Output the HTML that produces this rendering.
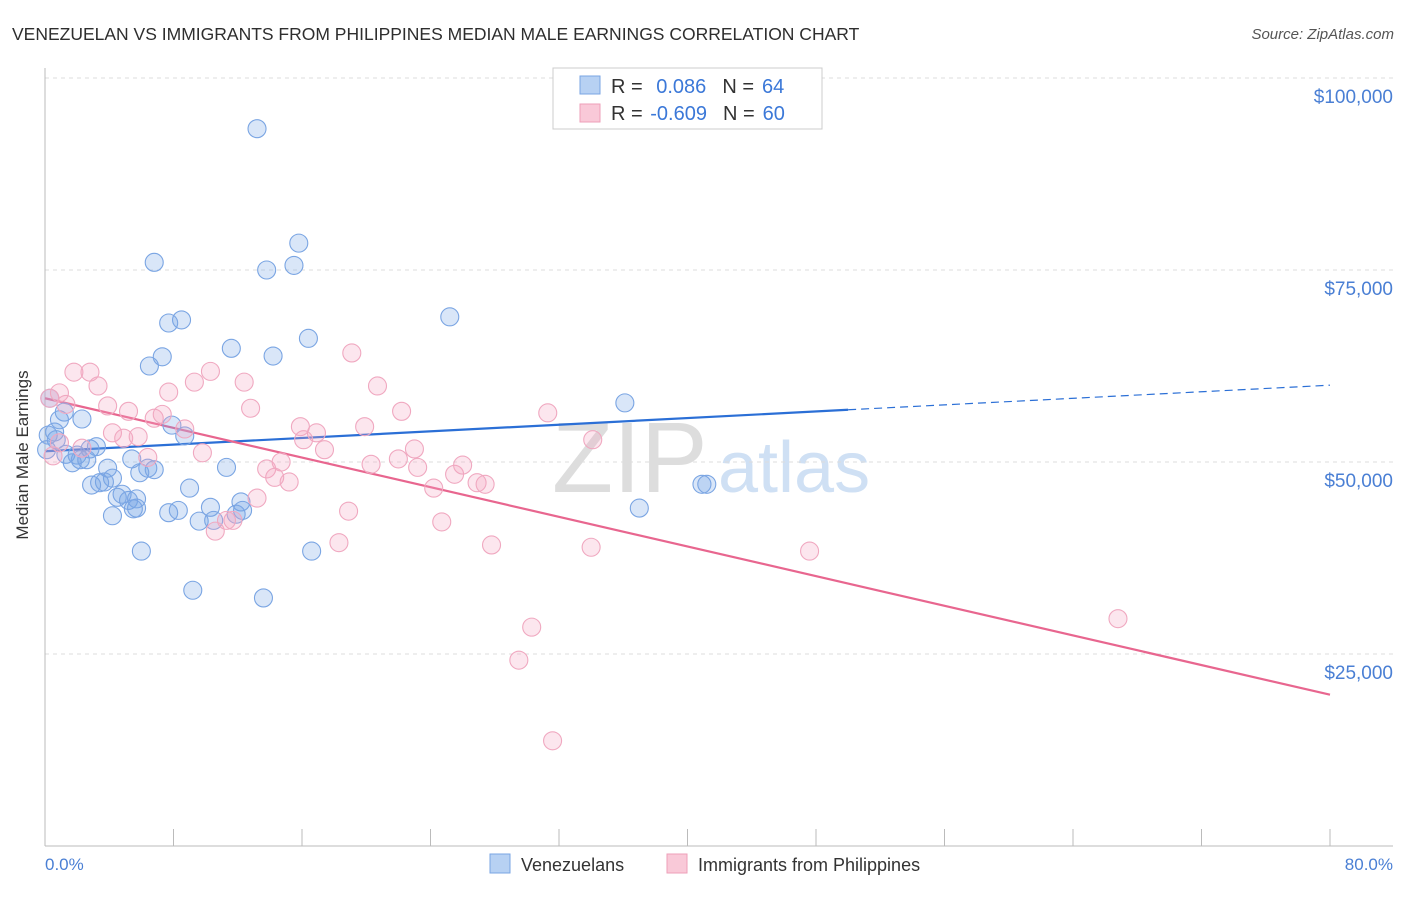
<!DOCTYPE html>
<html><head><meta charset="utf-8"><style>
body{margin:0;background:#fff;font-family:"Liberation Sans",sans-serif;}
svg text{font-family:"Liberation Sans",sans-serif;}
</style></head><body>
<svg id="chart" width="1406" height="892" xmlns="http://www.w3.org/2000/svg">
<text x="12" y="40" font-size="17.5" fill="#2e2e2e">VENEZUELAN VS IMMIGRANTS FROM PHILIPPINES MEDIAN MALE EARNINGS CORRELATION CHART</text>
<text x="1394" y="39" font-size="15" fill="#555" font-style="italic" text-anchor="end">Source: ZipAtlas.com</text>
<g>
<text x="552" y="492" font-size="100" font-family="Liberation Serif" fill="#ddd">ZIP</text>
<text x="718" y="492" font-size="72" fill="#cfe0f4">atlas</text>
</g>
<g id="grid"></g><g id="axes"></g><g id="trends"></g><g id="pts"></g>
<text x="28" y="455" font-size="17" fill="#333" text-anchor="middle" transform="rotate(-90 28 455)">Median Male Earnings</text>
<text x="45" y="870" font-size="17" fill="#4a7fd4">0.0%</text>
<text x="1393" y="870" font-size="17" fill="#4a7fd4" text-anchor="end">80.0%</text>
<g>
<rect x="553" y="68" width="269" height="61" fill="#fff" stroke="#ccc"/>
<rect x="580" y="76" width="20" height="18" fill="#b7d1f3" stroke="#7aa5e3"/>
<rect x="580" y="104" width="20" height="18" fill="#f9c9d8" stroke="#ee9fb8"/>
<text x="611" y="93" font-size="20" fill="#333">R =  <tspan fill="#3b78d8" dx="8">0.086</tspan><tspan dx="16" fill="#333">N =</tspan><tspan fill="#3b78d8" dx="8">64</tspan></text>
<text x="611" y="120" font-size="20" fill="#333">R = <tspan fill="#3b78d8" dx="2">-0.609</tspan><tspan dx="16" fill="#333">N =</tspan><tspan fill="#3b78d8" dx="8">60</tspan></text>
</g>
<g>
<rect x="490" y="854" width="20" height="19" fill="#b7d1f3" stroke="#7aa5e3"/>
<text x="521" y="871" font-size="18" fill="#333">Venezuelans</text>
<rect x="667" y="854" width="20" height="19" fill="#f9c9d8" stroke="#ee9fb8"/>
<text x="698" y="871" font-size="18" fill="#333">Immigrants from Philippines</text>
</g>
</svg>
<script>
const yTicks=[25000,50000,75000,100000];
const yTickLabels=["$25,000","$50,000","$75,000","$100,000"];
const xTicks=[0,8,16,24,32,40,48,56,64,72,80];
const blueX=[13.2,15.8,6.8,13.8,15.5,8.5,7.7,25.2,16.4,11.6,7.3,14.2,6.5,36.1,0.3,1.2,0.9,2.3,0.6,0.7,3.2,2.8,1.3,2.0,2.2,2.6,1.7,5.4,6.4,6.8,3.9,5.9,11.3,4.2,3.7,2.9,3.4,9.0,4.8,4.5,5.2,5.7,5.7,5.5,4.2,7.7,8.3,10.3,12.2,9.6,10.5,11.9,12.3,37.0,40.9,41.2,6.0,16.6,9.2,13.6,8.7,7.9,0.2,0.1];
const blueY=[93.4,78.5,76.0,75.0,75.6,68.5,68.1,68.9,66.1,64.8,63.7,63.8,62.5,57.7,58.3,56.5,55.5,55.6,53.9,52.9,52.0,51.7,51.0,50.9,50.3,50.3,49.9,50.4,49.2,49.0,49.2,48.6,49.3,47.9,47.4,47.0,47.3,46.6,45.8,45.4,45.0,45.2,44.0,43.9,43.0,43.4,43.7,44.1,44.8,42.3,42.4,43.2,43.7,44.0,47.1,47.1,38.4,38.4,33.3,32.3,53.4,54.8,53.5,51.6];
const pinkX=[0.3,0.9,1.3,1.8,2.8,3.3,3.9,5.2,6.8,7.3,7.7,8.7,9.3,10.3,12.4,12.8,19.1,20.7,22.2,15.9,16.9,16.1,17.4,19.9,4.2,4.9,5.8,6.4,9.8,2.3,0.9,0.5,13.8,14.7,15.2,14.3,20.3,22.0,23.0,23.2,24.2,25.5,26.0,26.9,27.4,34.1,31.3,13.2,11.7,10.6,11.3,18.9,24.7,18.3,27.8,34.0,47.6,30.3,29.5,31.6,66.8];
const pinkY=[58.3,59.0,57.5,61.7,61.7,59.9,57.3,56.6,55.7,56.2,59.1,54.3,60.4,61.8,60.4,57.0,64.2,59.9,56.6,54.6,53.8,52.9,51.6,54.6,53.8,53.1,53.3,50.6,51.2,51.8,52.5,50.8,49.1,50.0,47.4,48.0,49.7,50.4,51.7,49.3,46.6,48.4,49.6,47.3,47.1,52.9,56.4,45.3,42.4,41.0,42.4,43.6,42.2,39.5,39.2,38.9,38.4,28.5,24.2,13.7,29.6];
const blueTrend=[51.4,56.8,60.0];
const pinkTrend=[58.3,19.7];
const NS="http://www.w3.org/2000/svg";
const X=v=>45+v*(1285/80);
const Y=v=>846-v*(192/25000);
const Yk=v=>Y(v*1000);
function mk(t,a,p){const e=document.createElementNS(NS,t);for(const k in a)e.setAttribute(k,a[k]);p.appendChild(e);return e;}
const grid=document.getElementById('grid'),axes=document.getElementById('axes'),trends=document.getElementById('trends'),pts=document.getElementById('pts');
yTicks.forEach((t,i)=>{
 const l=mk('line',{x1:45,x2:1393,y1:Y(t),y2:Y(t),stroke:'#ddd','stroke-dasharray':'4 4'},grid);
 
 
 const tx=mk('text',{x:1393,y:Y(t)+25,'font-size':19,fill:'#4a7fd4','text-anchor':'end'},grid);
 tx.textContent=yTickLabels[i];
 
 
});
const ax1=mk('line',{x1:45,x2:45,y1:68,y2:846,stroke:'#bbb'},axes);


const ax2=mk('line',{x1:45,x2:1393,y1:846,y2:846,stroke:'#bbb'},axes);


xTicks.forEach(t=>{
 const l=mk('line',{x1:X(t),x2:X(t),y1:829,y2:846,stroke:'#bbb'},axes);
 
 
});
blueX.forEach((x,i)=>{
 const c=mk('circle',{cx:X(x),cy:Yk(blueY[i]),r:9,fill:'rgba(120,165,230,0.28)',stroke:'#7aa5e3','stroke-width':1.1},pts);
 
 
});
pinkX.forEach((x,i)=>{
 const c=mk('circle',{cx:X(x),cy:Yk(pinkY[i]),r:9,fill:'rgba(245,165,195,0.28)',stroke:'#f0a8c0','stroke-width':1.1},pts);
 
 
});
const b1=mk('line',{x1:X(0),y1:Yk(blueTrend[0]),x2:X(50),y2:Yk(blueTrend[1]),stroke:'#2b6fd6','stroke-width':2.2},trends);


const b2=mk('line',{x1:X(50),y1:Yk(blueTrend[1]),x2:X(80),y2:Yk(blueTrend[2]),stroke:'#2b6fd6','stroke-width':1.2,'stroke-dasharray':'8 5'},trends);


const p1=mk('line',{x1:X(0),y1:Yk(pinkTrend[0]),x2:X(80),y2:Yk(pinkTrend[1]),stroke:'#e8668f','stroke-width':2.2},trends);


</script>
</body></html>
